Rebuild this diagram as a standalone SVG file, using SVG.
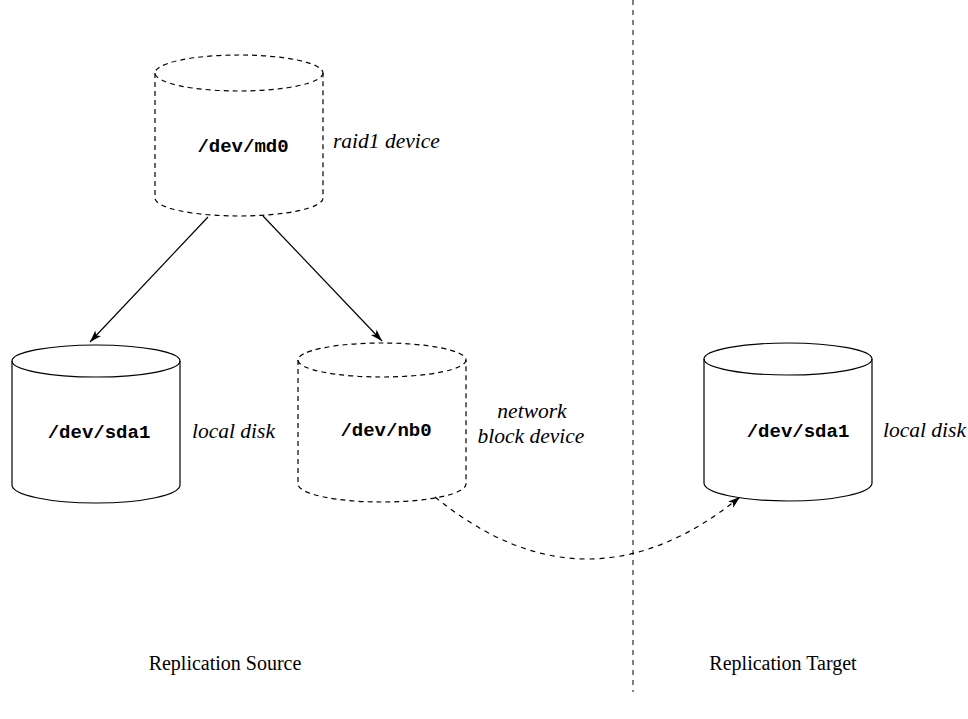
<svg xmlns="http://www.w3.org/2000/svg" width="968" height="719" viewBox="0 0 968 719">
<style>
.cyl{fill:none;stroke:#000;stroke-width:1.2}
.dash{stroke-dasharray:5 4}
.dev{font-family:"Liberation Mono",monospace;font-weight:bold;font-size:19px;text-anchor:middle;fill:#000}
.lbl{font-family:"Liberation Serif",serif;font-style:italic;font-size:21.5px;fill:#000}
.cap{font-family:"Liberation Serif",serif;font-size:20px;text-anchor:middle;fill:#000}
.conn{fill:none;stroke:#000;stroke-width:1.2}
</style>
<defs>
<marker id="ah" markerUnits="userSpaceOnUse" markerWidth="14" markerHeight="10" refX="12" refY="4" orient="auto">
<path d="M0,0 L12,4 L0,8 L3,4 z" fill="#000"/>
</marker>
</defs>
<rect width="968" height="719" fill="#fff"/>
<line x1="633" y1="0" x2="633" y2="692" stroke="#555" stroke-width="1.5" stroke-dasharray="5 5"/>
<g id="md0">
<path class="cyl dash" d="M155,73 L155,198 A84,18 0 0,0 323,198 L323,73"/>
<ellipse class="cyl dash" cx="239" cy="73" rx="84" ry="18"/>
<text class="dev" x="243" y="152">/dev/md0</text>
<text class="lbl" x="333" y="148">raid1 device</text>
</g>
<g id="sda1-src">
<path class="cyl" d="M12,361 L12,485 A84,18 0 0,0 180,485 L180,361"/>
<ellipse class="cyl" cx="96" cy="361" rx="84" ry="16"/>
<text class="dev" x="99" y="438">/dev/sda1</text>
<text class="lbl" x="192" y="438">local disk</text>
</g>
<g id="nb0">
<path class="cyl dash" d="M298,360 L298,484 A84,18 0 0,0 466,484 L466,360"/>
<ellipse class="cyl dash" cx="382" cy="360" rx="84" ry="17"/>
<text class="dev" x="386" y="436">/dev/nb0</text>
<text class="lbl" x="532" y="418" text-anchor="middle">network</text>
<text class="lbl" x="531" y="443" text-anchor="middle">block device</text>
</g>
<g id="sda1-tgt">
<path class="cyl" d="M704,359 L704,483 A84,18 0 0,0 872,483 L872,359"/>
<ellipse class="cyl" cx="788" cy="359" rx="84" ry="16"/>
<text class="dev" x="798" y="437">/dev/sda1</text>
<text class="lbl" x="883" y="437">local disk</text>
</g>
<g id="captions">
<text class="cap" x="225" y="670">Replication Source</text>
<text class="cap" x="783" y="670">Replication Target</text>
</g>
<g id="connectors">
<line class="conn" x1="208" y1="217" x2="90" y2="342" marker-end="url(#ah)"/>
<line class="conn" x1="263" y1="216" x2="382" y2="341" marker-end="url(#ah)"/>
<path class="conn" stroke-dasharray="5 5" d="M435,497 Q587,621 740,497" marker-end="url(#ah)"/>
</g>
</svg>
